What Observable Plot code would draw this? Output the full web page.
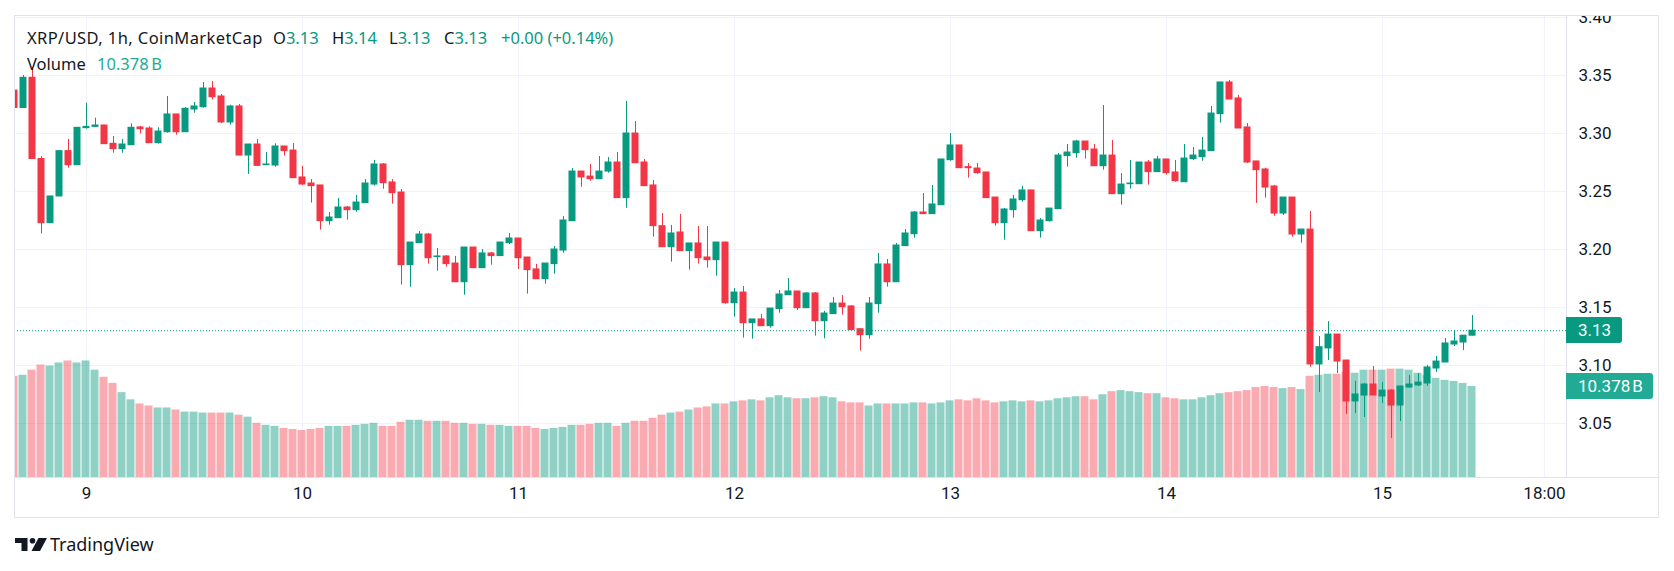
<!DOCTYPE html>
<html>
<head>
<meta charset="utf-8">
<script src="https://cdn.jsdelivr.net/npm/d3@7"></script>
<script src="https://cdn.jsdelivr.net/npm/@observablehq/plot@0.6"></script>
<style>
  html, body { margin: 0; padding: 0; background: #ffffff; }
  #chart { position: relative; width: 1674px; height: 571px; overflow: hidden;
           font-family: Roboto, "Noto Sans", sans-serif; color: #131722; }
  #chart > svg { position: absolute; left: 0; top: 0; }
  .rule { position: absolute; background: #e0e3eb; }
  .txt { position: absolute; font-family: "Noto Sans", Roboto, sans-serif; font-size: 16.5px;
         line-height: 20px; white-space: nowrap; }
  .up { color: #089981; }
  .vol { color: #22ab94; }
  .tag { position: absolute; left: 1566px; height: 26px; line-height: 26px; color: #ffffff;
         font-size: 17px; padding-left: 12px; box-sizing: border-box; border-radius: 0 3px 3px 0; }
</style>
</head>
<body>
<div id="chart"></div>
<script>
// XRP/USD hourly bars, 2025-08-08 16:00 UTC to 2025-08-15 10:00 UTC
const firstBar = Date.UTC(2025, 7, 8, 16);

const open = [
  3.337, 3.322, 3.348, 3.278, 3.2227, 3.2457, 3.2848, 3.2727,
  3.3046, 3.3057, 3.3069, 3.2911, 3.2865, 3.2899, 3.3052, 3.3043, 3.2917, 3.3011, 3.3164, 3.3011, 3.3207, 3.3227, 3.3388, 3.3319, 3.3095, 3.3233, 3.281, 3.2905, 3.2727, 3.2724, 3.2888, 3.2853,
  3.2621, 3.2569, 3.2552, 3.2244, 3.227, 3.2362, 3.2339, 3.24, 3.256, 3.2733, 3.2578, 3.2491, 3.1865, 3.2055, 3.2129, 3.1934, 3.194, 3.1879, 3.1718, 3.2017, 3.1839, 3.1966, 3.1943, 3.2055,
  3.2095, 3.1931, 3.1828, 3.1744, 3.1874, 3.1991, 3.2244, 3.2672, 3.2629, 3.2606, 3.2672, 3.275, 3.2443, 3.3, 3.275, 3.2552, 3.2201, 3.202, 3.2147, 3.1986, 3.2052, 3.1931, 3.1908, 3.206,
  3.1537, 3.1629, 3.1365, 3.1397, 3.1339, 3.1486, 3.1606, 3.1638, 3.1494, 3.1621, 3.1382, 3.1443, 3.1534, 3.1509, 3.1313, 3.1261, 3.1529, 3.1871, 3.1718, 3.2029, 3.2132, 3.2319, 3.2305, 3.2382,
  3.277, 3.2897, 3.271, 3.2698, 3.2664, 3.2448, 3.2227, 3.2339, 3.2425, 3.2509, 3.2158, 3.2244, 3.2348, 3.2805, 3.283, 3.2931, 3.2862, 3.2718, 3.281, 3.2477, 3.2563, 3.2563, 3.275, 3.2667,
  3.2776, 3.2664, 3.258, 3.2779, 3.2796, 3.2848, 3.3167, 3.344, 3.3302, 3.3052, 3.2759, 3.269, 3.2543, 3.231, 3.2448, 3.2129, 3.2172, 3.1009, 3.1147, 3.1267, 3.1043, 3.069, 3.0741, 3.0836,
  3.0733, 3.0784, 3.0655, 3.081, 3.0828, 3.0845, 3.0974, 3.1026, 3.1181, 3.1198, 3.1257
];
const high = [
  3.338, 3.350, 3.356, 3.280, 3.246, 3.285, 3.2948, 3.305,
  3.3261, 3.3132, 3.307, 3.2974, 3.2948, 3.3083, 3.306, 3.3057, 3.3049, 3.3319, 3.3164, 3.3224, 3.3267, 3.344, 3.3448, 3.3336, 3.3244, 3.325, 3.2905, 3.2948, 3.2836, 3.2911, 3.2888, 3.2914,
  3.2716, 3.2603, 3.2552, 3.2319, 3.244, 3.2371, 3.2466, 3.2603, 3.2767, 3.2741, 3.2603, 3.2517, 3.206, 3.2155, 3.2138, 3.2009, 3.1948, 3.194, 3.2017, 3.2017, 3.2, 3.1974, 3.206, 3.2138,
  3.2095, 3.1931, 3.1871, 3.1879, 3.2026, 3.2284, 3.2698, 3.2672, 3.2733, 3.2802, 3.2793, 3.2836, 3.3276, 3.3103, 3.2776, 3.2595, 3.231, 3.2207, 3.2302, 3.2052, 3.2198, 3.2198, 3.206, 3.2063,
  3.1664, 3.1681, 3.1397, 3.144, 3.1491, 3.1647, 3.175, 3.1638, 3.1629, 3.1629, 3.1466, 3.1586, 3.1603, 3.1517, 3.1313, 3.1586, 3.1966, 3.1914, 3.2052, 3.2172, 3.2328, 3.2483, 3.2552, 3.2776,
  3.3, 3.2897, 3.2741, 3.2741, 3.2664, 3.2448, 3.2353, 3.2466, 3.2543, 3.2509, 3.2267, 3.2353, 3.2828, 3.2905, 3.294, 3.2931, 3.2905, 3.3241, 3.294, 3.2655, 3.2767, 3.275, 3.2767, 3.2802,
  3.2776, 3.2767, 3.2905, 3.2879, 3.2966, 3.3233, 3.344, 3.3457, 3.3328, 3.3086, 3.2759, 3.2701, 3.2552, 3.2448, 3.2448, 3.2172, 3.2328, 3.125, 3.1379, 3.1267, 3.1043, 3.0865, 3.0845, 3.0991,
  3.0853, 3.0793, 3.0819, 3.0914, 3.0931, 3.1, 3.1078, 3.1233, 3.1302, 3.1259, 3.1431
];
const low = [
  3.321, 3.322, 3.278, 3.2135, 3.2227, 3.2457, 3.2701, 3.2727,
  3.3037, 3.3055, 3.2908, 3.283, 3.283, 3.2899, 3.2997, 3.2917, 3.2908, 3.3003, 3.2986, 3.3011, 3.3175, 3.3218, 3.329, 3.3086, 3.3072, 3.281, 3.2647, 3.2716, 3.2727, 3.271, 3.2805, 3.2615,
  3.2552, 3.24, 3.2167, 3.221, 3.227, 3.2253, 3.2322, 3.24, 3.2546, 3.252, 3.2391, 3.1693, 3.1675, 3.2055, 3.1874, 3.1813, 3.1848, 3.1718, 3.1606, 3.1839, 3.1839, 3.1865, 3.1943, 3.2043,
  3.1828, 3.1615, 3.1744, 3.1701, 3.1787, 3.1968, 3.2244, 3.2537, 3.2589, 3.2606, 3.2658, 3.2443, 3.2356, 3.2744, 3.2546, 3.2106, 3.202, 3.1891, 3.1986, 3.1822, 3.1874, 3.1839, 3.177, 3.1529,
  3.1417, 3.1236, 3.1227, 3.1339, 3.1322, 3.1451, 3.1606, 3.1474, 3.1494, 3.1253, 3.123, 3.1443, 3.1434, 3.1305, 3.1124, 3.1227, 3.1451, 3.1675, 3.1718, 3.2029, 3.2098, 3.2305, 3.2305, 3.2382,
  3.2761, 3.2701, 3.2615, 3.2649, 3.2443, 3.2201, 3.208, 3.227, 3.2408, 3.2158, 3.2098, 3.2236, 3.2348, 3.271, 3.2787, 3.2779, 3.2718, 3.2684, 3.2477, 3.2382, 3.252, 3.2563, 3.2555, 3.2667,
  3.2641, 3.258, 3.258, 3.2767, 3.2761, 3.2848, 3.3089, 3.3293, 3.3043, 3.2741, 3.2397, 3.2443, 3.2287, 3.2293, 3.2106, 3.2055, 3.0986, 3.0767, 3.1043, 3.0931, 3.0578, 3.0586, 3.0552, 3.0741,
  3.0672, 3.0371, 3.0517, 3.081, 3.0819, 3.0819, 3.094, 3.1026, 3.1164, 3.1129, 3.1255
];
const close = [
  3.322, 3.348, 3.278, 3.2227, 3.2457, 3.2848, 3.2727, 3.3049,
  3.3057, 3.3069, 3.2908, 3.2865, 3.2905, 3.3049, 3.3037, 3.2917, 3.3017, 3.3164, 3.3011, 3.3213, 3.3233, 3.3388, 3.3313, 3.3095, 3.3233, 3.281, 3.2905, 3.2721, 3.2733, 3.2888, 3.2848, 3.2615,
  3.256, 3.2546, 3.2244, 3.2276, 3.2362, 3.2339, 3.2405, 3.2569, 3.2733, 3.2572, 3.2486, 3.1865, 3.206, 3.2129, 3.1925, 3.194, 3.1874, 3.1718, 3.2017, 3.1839, 3.1966, 3.1943, 3.206, 3.2095,
  3.1925, 3.1822, 3.1744, 3.1879, 3.2, 3.225, 3.2672, 3.2621, 3.2606, 3.2672, 3.275, 3.2443, 3.3, 3.2744, 3.2546, 3.2201, 3.202, 3.2138, 3.1986, 3.2052, 3.1925, 3.1908, 3.206, 3.1537,
  3.1629, 3.1365, 3.1397, 3.1339, 3.1491, 3.1612, 3.1638, 3.1494, 3.1621, 3.1382, 3.1448, 3.1534, 3.1503, 3.1305, 3.1261, 3.1534, 3.1871, 3.1718, 3.2034, 3.2138, 3.2319, 3.2305, 3.2388, 3.2776,
  3.2897, 3.2701, 3.2701, 3.2658, 3.2443, 3.2227, 3.2345, 3.2431, 3.2509, 3.2158, 3.225, 3.2353, 3.281, 3.2836, 3.2931, 3.2856, 3.2718, 3.281, 3.2477, 3.256, 3.2569, 3.275, 3.2667, 3.2776,
  3.2658, 3.2589, 3.2784, 3.281, 3.2853, 3.3172, 3.344, 3.3293, 3.3043, 3.275, 3.2684, 3.2534, 3.231, 3.2448, 3.2129, 3.2172, 3.1009, 3.1158, 3.1267, 3.1034, 3.069, 3.075, 3.0836, 3.0741,
  3.0784, 3.0655, 3.0819, 3.0836, 3.0853, 3.0983, 3.1034, 3.119, 3.1207, 3.1257, 3.13
];
// Volume in billions
const volume = [
  11.54, 11.66, 12.24, 12.83, 12.71, 13.06, 13.29, 13.06,
  13.29, 12.24, 11.43, 10.73, 9.68, 8.86, 8.39, 8.16, 7.93, 7.93, 7.70, 7.46, 7.46, 7.35, 7.35, 7.35, 7.35, 7.11, 6.88, 6.18, 5.95, 5.83, 5.60, 5.48,
  5.36, 5.48, 5.60, 5.83, 5.83, 5.83, 5.95, 6.06, 6.18, 5.83, 5.83, 6.30, 6.53, 6.53, 6.41, 6.41, 6.41, 6.18, 6.18, 6.06, 6.06, 5.95, 5.95, 5.83,
  5.83, 5.83, 5.60, 5.48, 5.60, 5.71, 5.95, 5.95, 6.06, 6.18, 6.18, 5.83, 6.18, 6.41, 6.41, 6.76, 7.11, 7.35, 7.46, 7.70, 7.93, 8.05, 8.39, 8.39,
  8.63, 8.74, 8.86, 8.74, 9.09, 9.33, 9.09, 8.98, 8.98, 9.09, 9.21, 9.09, 8.63, 8.51, 8.51, 8.16, 8.39, 8.39, 8.39, 8.39, 8.51, 8.51, 8.39, 8.51,
  8.74, 8.86, 8.74, 8.98, 8.74, 8.51, 8.63, 8.74, 8.63, 8.74, 8.63, 8.74, 8.98, 9.09, 9.21, 9.21, 8.86, 9.44, 9.79, 9.91, 9.79, 9.68, 9.56, 9.56,
  9.09, 8.98, 8.86, 8.86, 9.09, 9.33, 9.56, 9.68, 9.79, 9.91, 10.26, 10.38, 10.26, 10.14, 10.26, 10.03, 11.54, 11.66, 11.78, 11.78, 12.01, 11.89, 12.24, 12.24,
  12.24, 12.36, 12.36, 12.24, 11.89, 11.66, 11.31, 11.08, 10.96, 10.73, 10.378
];

const priceTicks = [3.05, 3.10, 3.15, 3.20, 3.25, 3.30, 3.35, 3.40];
const timeTicks = [
  "2025-08-09T00:00Z", "2025-08-10T00:00Z", "2025-08-11T00:00Z", "2025-08-12T00:00Z",
  "2025-08-13T00:00Z", "2025-08-14T00:00Z", "2025-08-15T00:00Z", "2025-08-15T18:00Z"
].map(s => new Date(s));
const timeLabels = ["9", "10", "11", "12", "13", "14", "15", "18:00"];

const title = "XRP/USD, 1h, CoinMarketCap";
const UP = "#089981", DOWN = "#f23645", TEXT = "#131722", GRID = "#f0f3fa";
const HOUR = 3600e3;

const bars = open.map((o, i) => ({
  date: new Date(firstBar + i * HOUR),
  open: o, high: high[i], low: low[i], close: close[i], volume: volume[i],
  up: close[i] >= o
}));
const last = bars[bars.length - 1];
const prev = bars[bars.length - 2];

const day9 = Date.UTC(2025, 7, 9);
const xDomain = [new Date(day9 - 8 * HOUR), new Date(day9 + 164.444 * HOUR)];
const yDomain = [3.00345, 3.40172];
const slotL = d => new Date(+d.date - HOUR / 2);
const slotR = d => new Date(+d.date + HOUR / 2);

const frame = {
  width: 1674, height: 571,
  marginLeft: 14, marginRight: 108, marginTop: 15, marginBottom: 94,
  x: {type: "utc", domain: xDomain, axis: null},
  style: {background: "transparent", fontFamily: "Roboto, 'Noto Sans', sans-serif", overflow: "visible"}
};

// grid layer
const gridPlot = Plot.plot({
  ...frame,
  y: {domain: yDomain, axis: null},
  marks: [
    Plot.ruleY(priceTicks, {stroke: GRID}),
    Plot.ruleX(timeTicks, {stroke: GRID})
  ]
});

// volume layer
const volPlot = Plot.plot({
  ...frame,
  y: {domain: [0, 52.69], axis: null},
  marks: [
    Plot.rectY(bars.filter(d => d.up), {x1: slotL, x2: slotR, y: "volume", fill: UP, fillOpacity: 0.45, insetRight: 1, clip: true}),
    Plot.rectY(bars.filter(d => !d.up), {x1: slotL, x2: slotR, y: "volume", fill: DOWN, fillOpacity: 0.42, insetRight: 1, clip: true})
  ]
});

// candles, price line and axis labels
const mainPlot = Plot.plot({
  ...frame,
  y: {domain: yDomain, axis: null},
  marks: [
    Plot.ruleX(bars, {x: "date", y1: "low", y2: "high", stroke: d => d.up ? UP : DOWN, clip: true}),
    Plot.rect(bars, {x1: slotL, x2: slotR, y1: "open", y2: "close", fill: d => d.up ? UP : DOWN,
      insetLeft: 1, insetRight: 1, insetTop: -0.5, insetBottom: -0.5, clip: true}),
    Plot.ruleY([last.close], {stroke: UP, strokeDasharray: "1,2"}),
    Plot.text(timeTicks, {x: d => d, text: (d, i) => timeLabels[i], frameAnchor: "bottom", dy: 21, fontSize: 17, fill: TEXT}),
    Plot.text(priceTicks, {y: d => d, text: d => d.toFixed(2), frameAnchor: "right", textAnchor: "start", dx: 12, fontSize: 17, fill: TEXT})
  ],
  color: {type: "identity"}
});

const chart = document.getElementById("chart");
chart.append(gridPlot, volPlot, mainPlot);

function add(tag, cls, css, html) {
  const el = document.createElement(tag);
  if (cls) el.className = cls;
  Object.assign(el.style, css);
  if (html != null) el.innerHTML = html;
  chart.append(el);
  return el;
}

// white strip above the pane, clipping the topmost price label
add("div", null, {position: "absolute", left: "0px", top: "0px", width: "1674px", height: "15px", background: "#fff"});

// pane borders
add("div", "rule", {left: "14px", top: "15px", width: "1645px", height: "1px"});
add("div", "rule", {left: "14px", top: "477px", width: "1645px", height: "1px"});
add("div", "rule", {left: "14px", top: "517px", width: "1645px", height: "1px"});
add("div", "rule", {left: "14px", top: "15px", width: "1px", height: "503px"});
add("div", "rule", {left: "1658px", top: "15px", width: "1px", height: "503px"});
add("div", "rule", {left: "1566px", top: "15px", width: "1px", height: "462px"});

// legend
const f2 = v => v.toFixed(2);
const chg = last.close - prev.close;
const pct = chg / prev.close * 100;
const sign = v => (v >= 0 ? "+" : "−");
add("div", "txt", {left: "27px", top: "28px", letterSpacing: "0.4px"}, title);
add("div", "txt", {left: "273px", top: "28px"}, `O<span class="up">${f2(last.open)}</span>`);
add("div", "txt", {left: "332px", top: "28px"}, `H<span class="up">${f2(last.high)}</span>`);
add("div", "txt", {left: "389px", top: "28px"}, `L<span class="up">${f2(last.low)}</span>`);
add("div", "txt", {left: "444px", top: "28px"}, `C<span class="up">${f2(last.close)}</span>`);
add("div", "txt up", {left: "501px", top: "28px"},
  `${sign(chg)}${f2(Math.abs(chg))} (${sign(pct)}${f2(Math.abs(pct))}%)`);
add("div", "txt", {left: "27px", top: "54px"}, "Volume");
add("div", "txt vol", {left: "97px", top: "54px"}, `${last.volume.toFixed(3)}\u202FB`);

// last-value tags on the price scale
const yPrice = mainPlot.scale("y").apply(last.close);
const yVol = volPlot.scale("y").apply(last.volume);
add("div", "tag", {top: `${yPrice - 13}px`, width: "56px", background: UP}, f2(last.close));
add("div", "tag", {top: `${yVol - 13}px`, width: "87px", background: "#22ab94"}, `${last.volume.toFixed(3)}\u202FB`);

// TradingView wordmark
add("div", null, {position: "absolute", left: "15px", top: "534px", height: "20px", display: "flex", alignItems: "center"},
  `<svg width="32" height="13" viewBox="0 0 32 13" style="display:block">
     <path d="M0 0H12.5V13H6.5V5H0Z" fill="${TEXT}"/>
     <circle cx="17.5" cy="2.8" r="2.8" fill="${TEXT}"/>
     <path d="M23.5 0H32L25 13H16.5Z" fill="${TEXT}"/>
   </svg><span style="margin-left:3px;font-family:'Noto Sans',sans-serif;font-size:18px;line-height:20px;color:${TEXT}">TradingView</span>`);
</script>
</body>
</html>
